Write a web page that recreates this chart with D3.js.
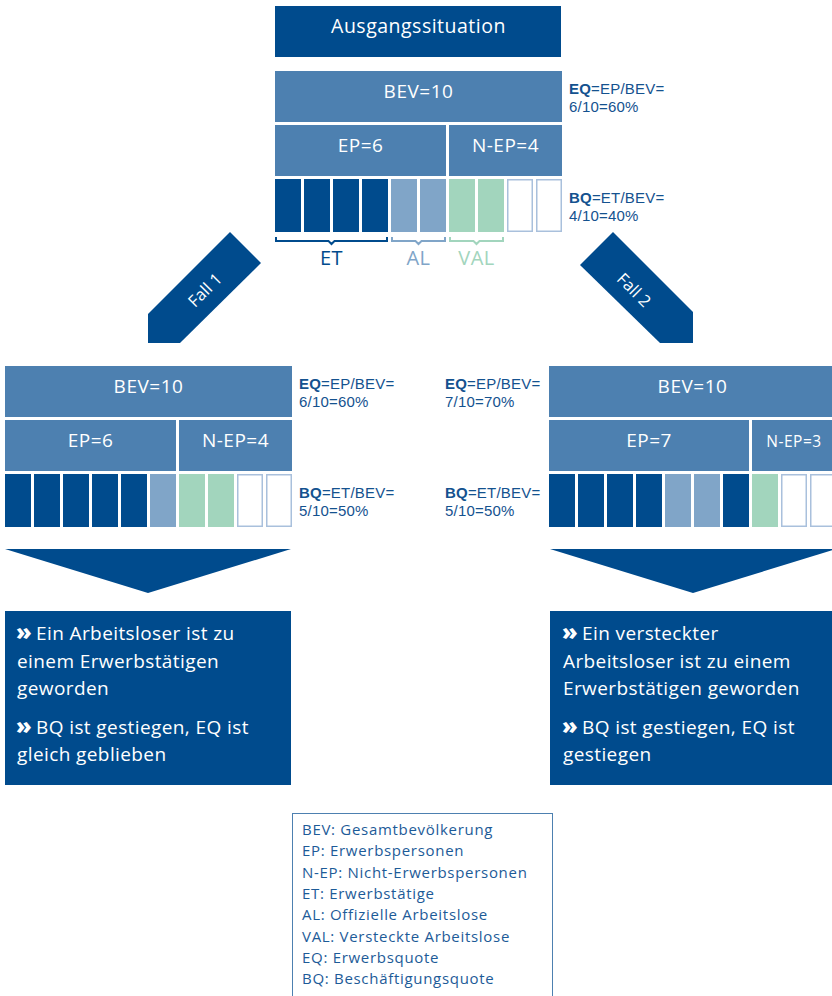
<!DOCTYPE html>
<html>
<head>
<meta charset="utf-8">
<script src="https://cdn.jsdelivr.net/npm/d3@7"></script>
<style>
  html, body { margin: 0; padding: 0; background: #fff; }
  svg { display: block; font-family: "Open Sans", "Noto Sans", sans-serif; }
</style>
</head>
<body>
<div id="chart"></div>
<script>
// ---- data ----
const totalBEV = 10;
const scenarioTitles = ["Ausgangssituation", "Fall 1", "Fall 2"];
const epValues = [6, 6, 7];
const nepValues = [4, 4, 3];
const etValues = [4, 5, 5];
// one entry per person: ET = Erwerbstätige, AL = Arbeitslose, VAL = versteckte Arbeitslose, N = Nicht-Erwerbsperson
const cellsStart = ["ET", "ET", "ET", "ET", "AL", "AL", "VAL", "VAL", "N", "N"];
const cellsFall1 = ["ET", "ET", "ET", "ET", "ET", "AL", "VAL", "VAL", "N", "N"];
const cellsFall2 = ["ET", "ET", "ET", "ET", "AL", "AL", "ET", "VAL", "N", "N"];
const bracketGroups = ["ET", "AL", "VAL"];
const summaryFall1 = [
  ["Ein Arbeitsloser ist zu", "einem Erwerbstätigen", "geworden"],
  ["BQ ist gestiegen, EQ ist", "gleich geblieben"]
];
const summaryFall2 = [
  ["Ein versteckter", "Arbeitsloser ist zu einem", "Erwerbstätigen geworden"],
  ["BQ ist gestiegen, EQ ist", "gestiegen"]
];
const legendLines = [
  "BEV: Gesamtbevölkerung",
  "EP: Erwerbspersonen",
  "N-EP: Nicht-Erwerbspersonen",
  "ET: Erwerbstätige",
  "AL: Offizielle Arbeitslose",
  "VAL: Versteckte Arbeitslose",
  "EQ: Erwerbsquote",
  "BQ: Beschäftigungsquote"
];

// ---- styles ----
const C = {
  dark: "#004b8d",
  mid: "#4d80b0",
  AL: "#80a5c8",
  VAL: "#a2d5bd",
  emptyStroke: "#a9c0dc",
  text: "#14528f",
  legendText: "#1d5b98"
};
const cellFill = { ET: C.dark, AL: C.AL, VAL: C.VAL, N: "#fff" };
const bracketColor = { ET: C.dark, AL: C.AL, VAL: C.VAL };

const W = 832, H = 996;
const svg = d3.select("#chart").append("svg").attr("width", W).attr("height", H);

// block geometry
const blockW = 287;
const rowH = 51, rowGap = 3, cellH = 53;

function drawBlock(x0, y0, ep, nep, et, cells, quoteX) {
  const g = svg.append("g");
  const band = d3.scaleBand().domain(d3.range(cells.length))
    .range([x0, x0 + blockW]).paddingInner(3 / 29).paddingOuter(0);
  const gap = band.step() - band.bandwidth();
  // linear scale in "persons": one person = one band step
  const x = d3.scaleLinear().domain([0, totalBEV]).range([x0, x0 + blockW + gap]);

  // BEV row
  g.append("rect").attr("x", x(0)).attr("y", y0)
    .attr("width", x(totalBEV) - x(0) - gap).attr("height", rowH).attr("fill", C.mid);
  g.append("text").attr("x", (x(0) + x(totalBEV) - gap) / 2).attr("y", y0 + 27)
    .attr("text-anchor", "middle").attr("fill", "#fff").attr("font-size", 19)
    .attr("letter-spacing", 0.5).text("BEV=" + totalBEV);

  // EP / N-EP row
  const y1 = y0 + rowH + rowGap;
  const parts = [
    { label: "EP=" + ep, a: 0, b: ep },
    { label: "N-EP=" + nep, a: ep, b: ep + nep }
  ];
  parts.forEach(p => {
    const w = x(p.b) - x(p.a) - gap;
    g.append("rect").attr("x", x(p.a)).attr("y", y1).attr("width", w).attr("height", rowH).attr("fill", C.mid);
    g.append("text").attr("x", x(p.a) + w / 2).attr("y", y1 + 27)
      .attr("text-anchor", "middle").attr("fill", "#fff")
      .attr("letter-spacing", 0.5)
      .attr("font-size", p.b - p.a <= 3 ? 15.5 : 19).text(p.label);
  });

  // person cells
  const y2 = y1 + rowH + rowGap;
  g.selectAll("rect.cell").data(cells).join("rect").attr("class", "cell")
    .attr("x", (d, i) => d === "N" ? band(i) + 0.75 : band(i))
    .attr("y", d => d === "N" ? y2 + 0.75 : y2)
    .attr("width", d => d === "N" ? band.bandwidth() - 1.5 : band.bandwidth())
    .attr("height", d => d === "N" ? cellH - 1.5 : cellH)
    .attr("fill", d => cellFill[d])
    .attr("stroke", d => d === "N" ? C.emptyStroke : "none")
    .attr("stroke-width", 1.5);

  // quotas: each one a two-line text
  const q = g.append("g").attr("fill", C.text).attr("font-size", 15)
    .attr("font-family", "'Liberation Sans', Arial, sans-serif").attr("letter-spacing", 0.2);
  const pct = v => Math.round(v / totalBEV * 100) + "%";
  const quotas = [
    { y: y0 + 23, head: "EQ", formula: "=EP/BEV=", value: ep + "/" + totalBEV + "=" + pct(ep) },
    { y: y0 + 132, head: "BQ", formula: "=ET/BEV=", value: et + "/" + totalBEV + "=" + pct(et) }
  ];
  quotas.forEach(l => {
    const t = q.append("text").attr("x", quoteX).attr("y", l.y);
    t.append("tspan").attr("font-weight", 700).text(l.head);
    t.append("tspan").text(l.formula);
    t.append("tspan").attr("x", quoteX).attr("dy", 18).text(l.value);
  });
  return { band, y2, gap };
}

// title
const titleX = 275, titleY = 6;
svg.append("rect").attr("x", titleX).attr("y", titleY).attr("width", blockW - 1).attr("height", 51).attr("fill", C.dark);
svg.append("text").attr("x", titleX + blockW / 2).attr("y", titleY + 27).attr("text-anchor", "middle")
  .attr("fill", "#fff").attr("font-size", 19.5).attr("letter-spacing", 0.5).text(scenarioTitles[0]);

// starting block
const startBlock = drawBlock(275, 71, epValues[0], nepValues[0], etValues[0], cellsStart, 569);

// brackets with labels under the starting cells
const bracketY = startBlock.y2 + cellH + 5;
bracketGroups.forEach(grp => {
  const idx = cellsStart.map((d, i) => d === grp ? i : -1).filter(i => i >= 0);
  const xa = startBlock.band(idx[0]) + 1, xb = startBlock.band(idx[idx.length - 1]) + startBlock.band.bandwidth() - 1;
  const mx = (xa + xb) / 2;
  const col = bracketColor[grp];
  svg.append("path")
    .attr("d", `M${xa},${bracketY} V${bracketY + 4} H${mx - 3} L${mx},${bracketY + 7} L${mx + 3},${bracketY + 4} H${xb} V${bracketY}`)
    .attr("fill", "none").attr("stroke", col).attr("stroke-width", 2);
  svg.append("text").attr("x", mx).attr("y", bracketY + 28).attr("text-anchor", "middle")
    .attr("fill", col).attr("font-size", 20).attr("letter-spacing", 0.5).text(grp);
});

// diagonal "Fall" arrows
function fallArrow(pts, label, cx, cy, angle) {
  svg.append("polygon").attr("points", pts.map(p => p.join(",")).join(" ")).attr("fill", C.dark);
  svg.append("text").attr("transform", `translate(${cx},${cy}) rotate(${angle})`)
    .attr("text-anchor", "middle").attr("dy", "0.35em").attr("fill", "#fff").attr("font-size", 16.5)
    .text(label);
}
fallArrow([[230, 232], [261, 263], [180, 343], [148, 343], [148, 314]], scenarioTitles[1], 205, 290, -45);
fallArrow([[613, 232], [693, 312], [693, 343], [660, 343], [580, 265]], scenarioTitles[2], 634, 290, 45);

// case blocks
drawBlock(5, 366, epValues[1], nepValues[1], etValues[1], cellsFall1, 299);
drawBlock(549, 366, epValues[2], nepValues[2], etValues[2], cellsFall2, 445);

// downward triangles and summary boxes
function summary(x0, lines, chevX, textX) {
  const w = blockW - 1;
  svg.append("polygon")
    .attr("points", `${x0},549 ${x0 + w},549 ${x0 + w / 2},593`).attr("fill", C.dark);
  svg.append("rect").attr("x", x0).attr("y", 611).attr("width", w).attr("height", 174).attr("fill", C.dark);
  let y = 640;
  lines.forEach(par => {
    svg.append("text").attr("x", chevX - 1).attr("y", y).attr("fill", "#fff")
      .attr("font-size", 23).attr("font-weight", 800).text("»");
    const t = svg.append("text").attr("y", y).attr("fill", "#fff")
      .attr("font-size", 19).attr("letter-spacing", 0.4);
    par.forEach((ln, i) => {
      t.append("tspan").attr("x", i === 0 ? textX : chevX).attr("dy", i === 0 ? 0 : 27.5).text(ln);
    });
    y += par.length * 27.5 + 11;
  });
}
summary(5, summaryFall1, 17, 36);
summary(550, summaryFall2, 563, 582);

// legend box
svg.append("rect").attr("x", 292.5).attr("y", 813.5).attr("width", 260).attr("height", 190)
  .attr("fill", "none").attr("stroke", C.mid).attr("stroke-width", 1);
const legendText = svg.append("text").attr("fill", C.legendText).attr("font-size", 15).attr("letter-spacing", 0.7);
legendText.selectAll("tspan").data(legendLines).join("tspan")
  .attr("x", 302).attr("y", (d, i) => 835 + i * 21.3).text(d => d);
</script>
</body>
</html>
